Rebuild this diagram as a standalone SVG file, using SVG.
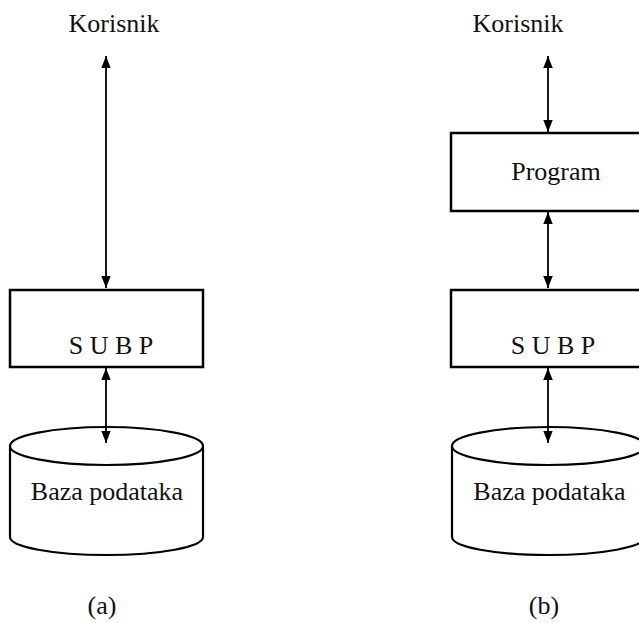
<svg xmlns="http://www.w3.org/2000/svg" width="639" height="623" viewBox="0 0 639 623">
  <style>
    .lbl { font-family: "Liberation Serif", "Times New Roman", serif; font-size: 26px; fill: #111; text-anchor: middle; }
    .box { fill: #fff; stroke: #000; stroke-width: 2.5; }
    .db { fill: #fff; stroke: #000; stroke-width: 2.2; }
    .link { stroke: #000; stroke-width: 1.8; fill: none; marker-start: url(#head); marker-end: url(#head); }
  </style>
  <defs>
    <marker id="head" viewBox="0 0 12 10" refX="12" refY="5" markerWidth="12" markerHeight="10" markerUnits="userSpaceOnUse" orient="auto-start-reverse">
      <path d="M0,0.3 L12,5 L0,9.7 Z" fill="#000"/>
    </marker>
    <!-- database cylinder, centred on x=0 -->
    <g id="cyl">
      <path class="db" d="M-96.5,446 L-96.5,537 A96.5,18 0 0 0 96.5,537 L96.5,446"/>
      <ellipse class="db" cx="0" cy="446" rx="96.5" ry="19"/>
    </g>
  </defs>

  <!-- (a) -->
  <g id="a-user"><text class="lbl" x="114" y="32">Korisnik</text></g>
  <g id="a-subp">
    <rect class="box" x="10" y="290" width="193" height="77"/>
    <text class="lbl" x="111" y="354">S U B P</text>
  </g>
  <g id="a-db">
    <use href="#cyl" x="106.5"/>
    <text class="lbl" x="107" y="500">Baza podataka</text>
  </g>
  <g id="a-caption"><text class="lbl" x="102" y="614">(a)</text></g>

  <!-- (b) -->
  <g id="b-user"><text class="lbl" x="518" y="32">Korisnik</text></g>
  <g id="b-program">
    <rect class="box" x="451" y="133" width="200" height="78"/>
    <text class="lbl" x="556" y="180">Program</text>
  </g>
  <g id="b-subp">
    <rect class="box" x="451" y="290" width="200" height="77"/>
    <text class="lbl" x="553" y="354">S U B P</text>
  </g>
  <g id="b-db">
    <use href="#cyl" x="548.5"/>
    <text class="lbl" x="549.5" y="500">Baza podataka</text>
  </g>
  <g id="b-caption"><text class="lbl" x="544" y="614">(b)</text></g>

  <!-- connectors -->
  <g id="connectors">
    <line class="link" x1="106" y1="56" x2="106" y2="288"/>
    <line class="link" x1="106" y1="368" x2="106" y2="443"/>
    <line class="link" x1="548" y1="56" x2="548" y2="132"/>
    <line class="link" x1="548" y1="212" x2="548" y2="288"/>
    <line class="link" x1="548" y1="368" x2="548" y2="443"/>
  </g>
</svg>
